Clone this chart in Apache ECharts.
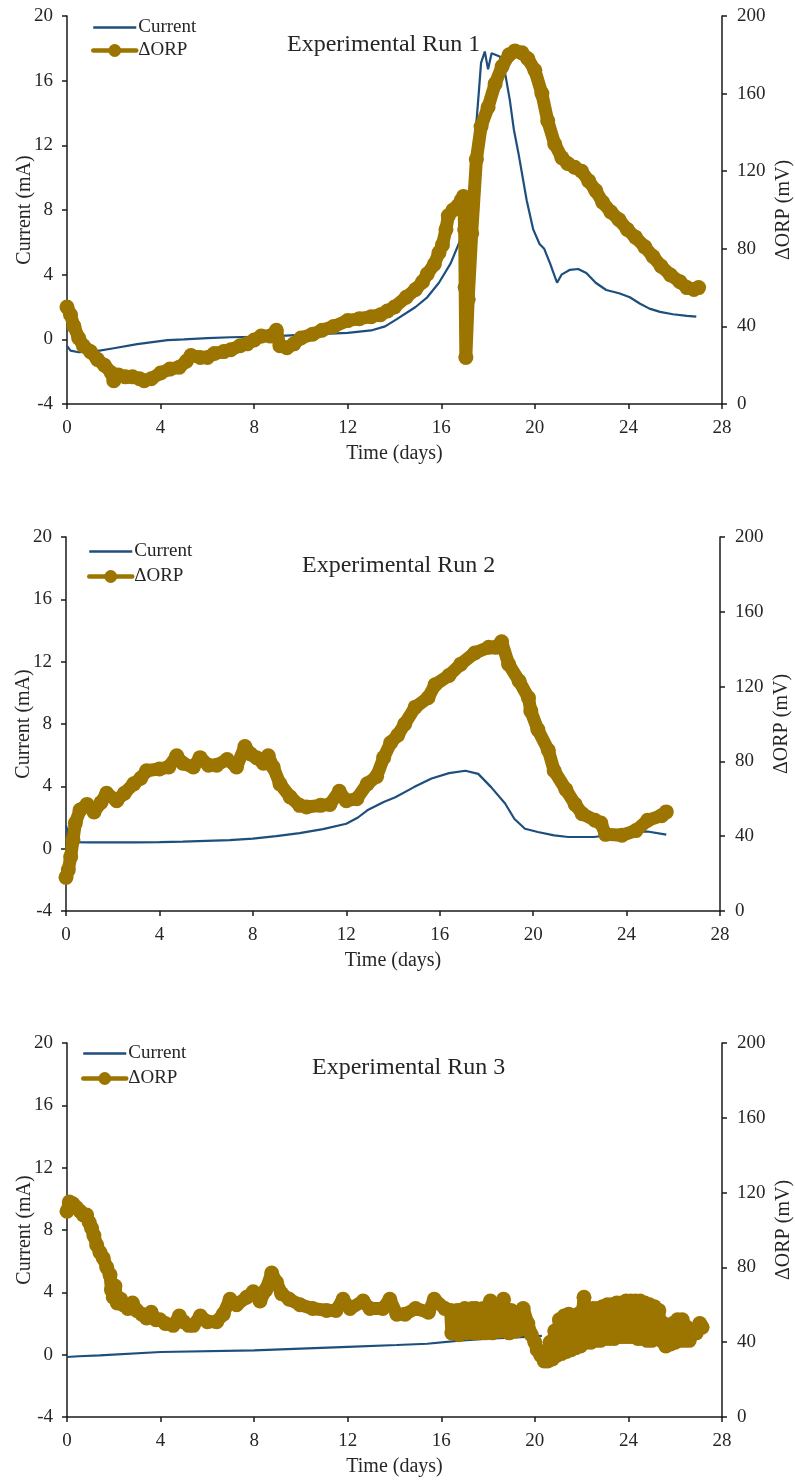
<!DOCTYPE html>
<html>
<head>
<meta charset="utf-8">
<title>Current and ΔORP — Experimental Runs</title>
<script src="https://cdn.jsdelivr.net/npm/echarts@6/dist/echarts.min.js"></script>
<style>
  html, body { margin: 0; padding: 0; background: #ffffff; }
  #chart { width: 795px; height: 1481px; }
</style>
</head>
<body>
<div id="chart"></div>
<script>
// ---- Data: [time (days), value] ----
const runTitles = ['Experimental Run 1', 'Experimental Run 2', 'Experimental Run 3'];
const seriesNames = ['Current', 'ΔORP'];

// Run 1 current (mA)
const current1 = [
  [0,-0.4],[0.15,-0.7],[0.5,-0.8],[1.2,-0.75],[2,-0.55],[3,-0.3],[4.3,-0.05],[5,0.0],[6,0.08],
  [7,0.13],[8.5,0.17],[10,0.28],[12,0.4],[13,0.55],[13.6,0.8],[14.1,1.25],[14.9,2.0],[15.4,2.6],
  [15.9,3.5],[16.4,4.7],[16.8,6.1],[17.1,7.4],[17.25,9.4],[17.45,12.5],[17.6,15.2],[17.7,17.1],
  [17.86,17.8],[18.0,16.7],[18.15,17.7],[18.5,17.5],[18.7,16.7],[18.93,14.8],[19.1,13.0],[19.3,11.5],
  [19.65,8.6],[19.93,6.8],[20.2,5.9],[20.4,5.6],[20.65,4.7],[20.85,3.9],[20.95,3.5],[21.14,4.0],
  [21.5,4.3],[21.85,4.35],[22.2,4.1],[22.6,3.5],[23.05,3.05],[23.6,2.85],[24.06,2.6],[24.5,2.2],
  [24.9,1.9],[25.35,1.7],[25.9,1.55],[26.5,1.45],[26.9,1.4]
];
// Run 1 ΔORP (mV)
const orp1 = [
  [0,50],[0.15,46],[0.3,40],[0.5,34],[0.7,30],[1.0,27],[1.3,23],[1.6,20],[1.9,16],[2.0,12],[2.2,15],
  [2.5,14],[2.8,14],[3.1,13],[3.3,12],[3.6,13],[4.0,16],[4.4,18],[4.8,19],[5.1,22],[5.3,25],[5.7,24],
  [6.0,24],[6.3,26],[6.7,27],[7.0,28],[7.4,30],[7.7,31],[8.0,33],[8.3,35],[8.7,35],[8.95,38],[9.1,30],
  [9.4,29],[9.7,31],[10.0,34],[10.5,36],[10.9,38],[11.4,40],[12.0,43],[12.5,44],[13.0,45],[13.4,46],
  [13.7,48],[14.0,50],[14.5,55],[14.9,59],[15.2,63],[15.4,67],[15.7,72],[15.9,78],[16.05,82],[16.2,90],
  [16.3,97],[16.5,100],[16.7,102],[16.85,105],[16.95,107],[17.0,90],[17.02,60],[17.05,24],[17.15,54],
  [17.3,88],[17.5,126],[17.7,143],[18.0,153],[18.3,165],[18.6,174],[18.9,180],[19.15,182],[19.45,181],
  [19.7,178],[20.0,172],[20.3,160],[20.55,146],[20.85,134],[21.15,127],[21.4,124],[21.7,122],[22.0,120],
  [22.3,115],[22.6,110],[22.9,104],[23.25,99],[23.6,95],[23.95,90],[24.3,86],[24.7,81],[25.05,76],
  [25.4,71],[25.8,66.5],[26.2,63],[26.5,60],[26.8,59],[27.0,60]
];

// Run 2 current (mA)
const current2 = [
  [0,1.5],[0.1,0.9],[0.3,0.42],[1,0.4],[2,0.4],[3,0.4],[4,0.42],[5,0.45],[6,0.5],[7,0.55],[8,0.64],
  [9,0.8],[10,1.0],[11,1.25],[12,1.6],[12.5,2.0],[12.9,2.46],[13.6,3.0],[14.1,3.3],[14.9,3.95],
  [15.65,4.5],[16.4,4.85],[17.1,5.0],[17.65,4.8],[18.2,3.95],[18.8,2.9],[19.2,1.9],[19.65,1.28],
  [20.2,1.07],[20.9,0.85],[21.5,0.75],[22.6,0.75],[23.5,0.9],[24.1,1.1],[24.9,1.1],[25.7,0.9]
];
// Run 2 ΔORP (mV)
const orp2 = [
  [0,18],[0.1,22],[0.2,29],[0.3,38],[0.4,47],[0.6,54],[0.9,57],[1.2,53],[1.5,58],[1.74,63],[2.17,59],
  [2.5,63],[2.9,68],[3.2,71],[3.45,75],[4.0,76],[4.4,77],[4.74,83],[5.0,79],[5.45,77],[5.74,82],
  [6.1,78],[6.45,78],[6.9,81],[7.3,77],[7.66,88],[7.9,84],[8.16,82],[8.45,79],[8.66,83],[8.87,77],
  [9.16,68],[9.6,61],[10.0,56.5],[10.3,55.6],[10.9,56.5],[11.3,57],[11.7,64],[12.0,59],[12.45,60],
  [12.9,68],[13.3,72],[13.6,82],[13.9,90],[14.2,94],[14.5,100],[14.95,109],[15.5,114],[15.8,121],
  [16.4,126],[16.9,132],[17.5,138],[18.1,141],[18.4,141],[18.65,144],[18.95,132],[19.4,123],[19.8,114],
  [19.9,107],[20.2,97],[20.65,86],[20.9,75],[21.4,65],[21.8,57],[22.1,52],[22.65,48.5],[22.9,47],
  [23.1,41],[23.8,40.5],[24.4,43],[24.9,48.5],[25.5,51],[25.7,53]
];

// Run 3 current (mA)
const current3 = [
  [0,-0.15],[0.5,-0.1],[1.4,-0.05],[4,0.17],[8,0.28],[12,0.5],[14.1,0.62],[15.4,0.7],[16.9,0.92],
  [18,1.03],[19.4,1.13],[20.3,1.2]
];
// Run 3 ΔORP (mV) — noisy readings after day 16
const orp3 = [
  [0,110],[0.1,115],[0.25,114],[0.4,112],[0.56,110],[0.7,108],[0.84,108],[0.95,104],[1.05,101],
  [1.15,97],[1.27,92],[1.41,88],[1.55,85],[1.7,80],[1.84,76],[1.9,68],[1.98,64],[2.05,70],[2.15,61],
  [2.3,63],[2.4,60],[2.6,58],[2.8,61],[2.98,57],[3.2,55],[3.4,53],[3.6,56],[3.8,52],[3.97,52],
  [4.2,50],[4.54,49],[4.8,54],[4.97,51],[5.2,49],[5.4,49],[5.7,54],[6.0,51],[6.4,51],[6.68,55],
  [6.97,63],[7.25,60],[7.68,64],[7.96,67],[8.25,62],[8.5,68],[8.75,77],[8.96,72],[9.17,66],[9.5,63],
  [9.96,60],[10.5,58],[11.1,57],[11.5,57],[11.8,63],[12.1,58],[12.66,62],[12.95,58],[13.5,58],
  [13.8,63],[14.1,55],[14.45,55],[14.9,58],[15.45,56],[15.7,63],[16.15,58],[16.4,57],
  [16.45,45],[16.52,56],[16.6,45],[16.68,57],[16.76,44],[16.84,57],[16.92,45],[17.0,58],[17.08,45],
  [17.16,57],[17.24,46],[17.32,58],[17.4,45],[17.48,58],[17.56,45],[17.64,57],[17.72,46],[17.8,58],
  [17.88,45],[17.96,58],[18.04,46],[18.1,62],[18.18,45],[18.26,57],[18.34,46],[18.42,58],[18.5,46],
  [18.58,59],[18.66,63],[18.74,46],[18.82,57],[18.9,45],[18.98,57],[19.06,46],[19.14,56],[19.22,46],
  [19.3,55],[19.38,47],[19.45,52],[19.5,58],[19.7,50],[19.85,44],[20.0,40],[20.1,36],[20.25,33],
  [20.4,30],[20.55,30],[20.65,40],[20.75,31],[20.85,46],[20.95,33],[21.05,52],[21.15,34],[21.25,54],
  [21.35,35],[21.45,55],[21.55,36],[21.65,54],[21.75,37],[21.85,55],[21.95,38],[22.05,57],[22.1,64],
  [22.2,40],[22.3,57],[22.4,40],[22.5,58],[22.6,41],[22.7,58],[22.8,41],[22.9,59],[23.0,42],[23.1,60],
  [23.2,42],[23.3,60],[23.4,42],[23.5,61],[23.6,43],[23.7,61],[23.8,43],[23.9,62],[24.0,43],[24.1,62],
  [24.2,43],[24.3,62],[24.4,42],[24.5,62],[24.6,42],[24.7,61],[24.8,41],[24.9,60],[25.0,41],[25.1,59],
  [25.2,42],[25.3,57],[25.4,41],[25.5,50],[25.6,38],[25.7,47],[25.8,39],[25.9,50],[26.0,40],[26.1,52],
  [26.2,41],[26.3,52],[26.4,41],[26.5,48],[26.6,41],[26.7,46],[26.9,45],[27.05,50],[27.15,48]
];

const currentData = [current1, current2, current3];
const orpData = [orp1, orp2, orp3];

// Axis tick settings
const timeAxis = { min: 0, max: 28, interval: 4 };
const currentAxis = { min: -4, max: 20, interval: 4 };
const orpAxis = { min: 0, max: 200, interval: 40 };

// ---- Layout and styling ----
const FONT = '"Liberation Serif", "Times New Roman", serif';
const TEXT = '#262626';
const AXIS = '#1a1a1a';
const BLUE = '#1d4e7c';
const GOLD = '#9c7400';

const grids = [
  { left: 67, right: 73, top: 16, height: 388 },
  { left: 66, right: 75, top: 537, height: 374 },
  { left: 67, right: 73, top: 1043, height: 374 }
];
const titlePos = [
  { left: 287, top: 33 },
  { left: 302, top: 554 },
  { left: 312, top: 1056 }
];
const legendPos = [
  { left: 91, top: 18, itemGap: 4 },
  { left: 87, top: 542, itemGap: 6 },
  { left: 81, top: 1044, itemGap: 6 }
];

const axisLine = { show: true, onZero: false, lineStyle: { color: AXIS, width: 1.5 } };
const axisTick = { show: true, length: 5, inside: false, lineStyle: { color: AXIS, width: 1.5 } };
const labelStyle = { color: TEXT, fontFamily: FONT, fontSize: 19 };
const nameStyle = { color: TEXT, fontFamily: FONT, fontSize: 20 };

// Suffix keeps series names unique per panel while the legend shows the plain name
const tag = i => '\u200b'.repeat(i);

const option = {
  animation: false,
  backgroundColor: '#ffffff',
  title: runTitles.map((t, i) => ({
    text: t,
    left: titlePos[i].left,
    top: titlePos[i].top,
    padding: 0,
    textStyle: { fontFamily: FONT, fontSize: 24, fontWeight: 'normal', color: TEXT }
  })),
  legend: legendPos.map((p, i) => ({
    orient: 'vertical',
    left: p.left,
    top: p.top,
    padding: 0,
    itemGap: p.itemGap,
    itemWidth: 43,
    itemHeight: 16,
    data: [
      { name: seriesNames[0] + tag(i), itemStyle: { opacity: 0 }, lineStyle: { width: 2.6 } },
      { name: seriesNames[1] + tag(i), lineStyle: { width: 4.5 } }
    ],
    formatter: name => name.replace(/\u200b/g, ''),
    textStyle: { fontFamily: FONT, fontSize: 19, color: TEXT, padding: [0, 0, 0, -3] }
  })),
  grid: grids.map(g => Object.assign({ containLabel: false, outerBoundsMode: 'none' }, g)),
  xAxis: grids.map((g, i) => ({
    type: 'value',
    gridIndex: i,
    min: timeAxis.min, max: timeAxis.max, interval: timeAxis.interval,
    name: 'Time (days)',
    nameLocation: 'middle',
    nameGap: 40,
    nameMoveOverlap: false,
    nameTextStyle: nameStyle,
    axisLine, axisTick,
    axisLabel: Object.assign({ margin: 15 }, labelStyle),
    splitLine: { show: false }
  })),
  yAxis: [].concat(...grids.map((g, i) => ([
    {
      type: 'value',
      gridIndex: i,
      position: 'left',
      min: currentAxis.min, max: currentAxis.max, interval: currentAxis.interval,
      name: 'Current (mA)',
      nameLocation: 'middle',
      nameRotate: 90,
      nameGap: 32,
      nameMoveOverlap: false,
      nameTextStyle: nameStyle,
      axisLine, axisTick,
      axisLabel: Object.assign({ margin: 14 }, labelStyle),
      splitLine: { show: false }
    },
    {
      type: 'value',
      gridIndex: i,
      position: 'right',
      min: orpAxis.min, max: orpAxis.max, interval: orpAxis.interval,
      name: 'ΔORP (mV)',
      nameLocation: 'middle',
      nameRotate: 90,
      nameGap: 52,
      nameMoveOverlap: false,
      nameTextStyle: nameStyle,
      axisLine, axisTick,
      axisLabel: Object.assign({ margin: 15 }, labelStyle),
      splitLine: { show: false }
    }
  ]))),
  series: [].concat(...grids.map((g, i) => ([
    {
      name: seriesNames[0] + tag(i),
      type: 'line',
      xAxisIndex: i,
      yAxisIndex: i * 2,
      data: currentData[i],
      showSymbol: false,
      symbol: 'none',
      lineStyle: { color: BLUE, width: 2.2 },
      itemStyle: { color: BLUE },
      z: 2
    },
    {
      name: seriesNames[1] + tag(i),
      type: 'line',
      xAxisIndex: i,
      yAxisIndex: i * 2 + 1,
      data: orpData[i],
      symbol: 'circle',
      symbolSize: 15,
      showAllSymbol: true,
      lineStyle: { color: GOLD, width: 13, join: 'round', cap: 'round' },
      itemStyle: { color: GOLD },
      z: 3
    }
  ])))
};

const chart = echarts.init(document.getElementById('chart'), null, { renderer: 'canvas' });
chart.setOption(option);
</script>
</body>
</html>
